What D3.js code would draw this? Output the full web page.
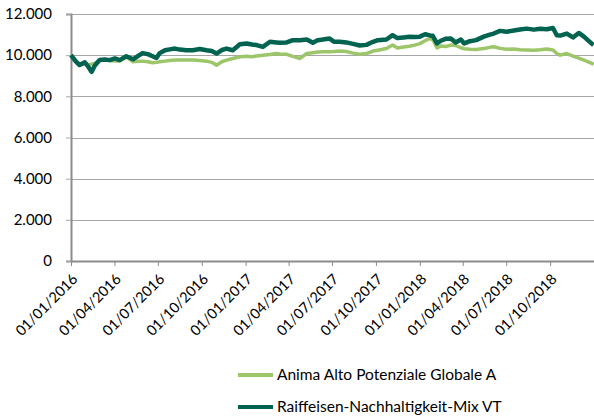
<!DOCTYPE html>
<meta charset="utf-8">
<style>
body { margin: 0; background: #fff; }
svg text { font-family: Lato, "Open Sans", sans-serif; fill: #000; }
.grid line { stroke: #a6a6a6; stroke-width: 1px; shape-rendering: crispEdges; }
.grid path { stroke-width: 0; }
.axis path, .axis line { stroke: #8c8c8c; stroke-width: 2px; }
.line { fill: none; stroke-linejoin: round; }
</style>
<body>
<script src="https://d3js.org/d3.v7.min.js"></script>
<script>
// dates of the readings
var dates = ["2016-01-01","2016-01-11","2016-01-19","2016-01-30","2016-02-05","2016-02-13","2016-02-20","2016-03-01","2016-03-12","2016-03-22",
  "2016-04-02","2016-04-12","2016-04-26","2016-05-10","2016-05-20","2016-05-30","2016-06-10","2016-06-20","2016-06-28","2016-07-05",
  "2016-07-16","2016-07-26","2016-08-06","2016-08-16","2016-08-30","2016-09-12","2016-09-27","2016-10-11","2016-10-22","2016-11-01",
  "2016-11-12","2016-11-22","2016-12-05","2016-12-20","2017-01-03","2017-01-14","2017-01-24","2017-02-06","2017-02-21","2017-03-06",
  "2017-03-14","2017-03-28","2017-04-10","2017-04-25","2017-05-09","2017-05-22","2017-06-01","2017-06-12","2017-06-26","2017-07-05",
  "2017-07-17","2017-07-31","2017-08-14","2017-08-28","2017-09-11","2017-09-25","2017-10-05","2017-10-23","2017-11-05","2017-11-15",
  "2017-11-28","2017-12-10","2017-12-23","2018-01-01","2018-01-12","2018-01-22","2018-01-28","2018-02-06","2018-02-14","2018-02-25",
  "2018-03-07","2018-03-17","2018-03-28","2018-04-04","2018-04-16","2018-04-29","2018-05-15","2018-05-28","2018-06-05","2018-06-18",
  "2018-07-02","2018-07-17","2018-07-30","2018-08-13","2018-08-28","2018-09-10","2018-09-24","2018-10-07","2018-10-15","2018-10-22",
  "2018-11-05","2018-11-18","2018-11-30","2018-12-11","2018-12-19","2018-12-28","2018-12-31"];

// Anima Alto Potenziale Globale A
var anima = [10000,9720,9560,9620,9540,9560,9600,9760,9760,9740,
  9720,9720,9920,9680,9700,9710,9680,9630,9650,9680,
  9710,9740,9760,9760,9760,9760,9740,9710,9650,9510,
  9680,9760,9840,9920,9950,9920,9960,10000,10030,10080,
  10060,10040,9940,9840,10080,10120,10150,10160,10160,10180,
  10200,10180,10100,10050,10080,10200,10240,10320,10490,10350,
  10400,10430,10500,10560,10700,10810,10760,10350,10450,10420,
  10490,10470,10360,10310,10290,10280,10320,10380,10410,10330,
  10290,10300,10260,10250,10240,10260,10300,10250,10080,10000,
  10080,9950,9860,9760,9680,9600,9540];

// Raiffeisen-Nachhaltigkeit-Mix VT
var raiffeisen = [10000,9700,9520,9650,9480,9190,9500,9760,9790,9760,
  9840,9760,9950,9800,9950,10100,10050,9950,9860,10100,
  10240,10280,10320,10270,10240,10240,10300,10240,10200,10080,
  10250,10320,10240,10530,10570,10520,10490,10400,10650,10620,
  10600,10620,10730,10730,10760,10600,10730,10760,10810,10650,
  10650,10620,10550,10470,10500,10650,10730,10760,10970,10830,
  10860,10890,10880,10900,11020,10960,10940,10570,10700,10800,
  10810,10620,10760,10570,10680,10730,10900,11000,11050,11180,
  11140,11200,11250,11290,11240,11280,11260,11320,10970,10950,
  11050,10860,11080,10900,10730,10550,10500];

var seriesNames = ["Anima Alto Potenziale Globale A", "Raiffeisen-Nachhaltigkeit-Mix VT"];
var seriesColors = ["#9dc66b", "#00634f"];
var yTicks = [0, 2000, 4000, 6000, 8000, 10000, 12000];

var width = 594, height = 417;
var plot = {left: 71, right: 594, top: 14, bottom: 261};

var parse = d3.timeParse("%Y-%m-%d");
var fmtDate = d3.timeFormat("%d/%m/%Y");
var fmtNum = function(v) { return d3.format(",")(v).replace(/,/g, "."); };

var x = d3.scaleTime()
    .domain([parse("2016-01-01"), parse("2019-01-01")])
    .range([plot.left, plot.right]);
var y = d3.scaleLinear().domain([0, 12000]).range([plot.bottom, plot.top]);

var svg = d3.select("body").append("svg")
    .attr("width", width)
    .attr("height", height);

// horizontal gridlines
svg.append("g")
    .attr("class", "grid")
    .attr("transform", "translate(" + plot.left + ",0)")
    .call(d3.axisLeft(y).tickValues(yTicks).tickSize(-(plot.right - plot.left)).tickFormat(""));

// y labels + small ticks
var yAxis = svg.append("g")
    .attr("class", "axis")
    .attr("transform", "translate(" + plot.left + ",0)")
    .call(d3.axisLeft(y).tickValues(yTicks).tickSize(5).tickPadding(14).tickFormat(fmtNum));
yAxis.selectAll(".tick line").style("stroke", "#a6a6a6").style("stroke-width", "1px");
yAxis.selectAll("text").style("font-size", "15px");

// x axis
var quarters = d3.timeMonth.range(parse("2016-01-01"), parse("2018-12-01"), 3);
var xAxis = svg.append("g")
    .attr("class", "axis")
    .attr("transform", "translate(0," + plot.bottom + ")")
    .call(d3.axisBottom(x).tickValues(quarters).tickSize(5).tickSizeOuter(0).tickFormat(fmtDate));
xAxis.selectAll(".tick line").style("stroke-width", "1px");
xAxis.selectAll("text")
    .style("font-size", "14.5px")
    .attr("text-anchor", "end")
    .attr("dy", null)
    .attr("y", 0)
    .attr("transform", "translate(7,19) rotate(-45)");

// lines
var rows = dates.map(function(d, i) { return {date: parse(d), a: anima[i], r: raiffeisen[i]}; });
var keys = ["a", "r"];
keys.forEach(function(k, i) {
  svg.append("path")
      .datum(rows)
      .attr("class", "line")
      .style("stroke", seriesColors[i])
      .style("stroke-width", i == 0 ? 3.5 : 4.5)
      .attr("d", d3.line()
          .x(function(d) { return x(d.date); })
          .y(function(d) { return y(d[k]); }));
});

// legend
var legend = svg.append("g");
seriesNames.forEach(function(name, i) {
  var ly = 375 + i * 32;
  legend.append("line")
      .attr("x1", 238).attr("x2", 273)
      .attr("y1", ly).attr("y2", ly)
      .style("stroke", seriesColors[i])
      .style("stroke-width", 4);
  legend.append("text")
      .attr("x", 277)
      .attr("y", ly)
      .attr("dy", "0.35em")
      .style("font-size", "15.5px")
      .text(name);
});
</script>
</body>
